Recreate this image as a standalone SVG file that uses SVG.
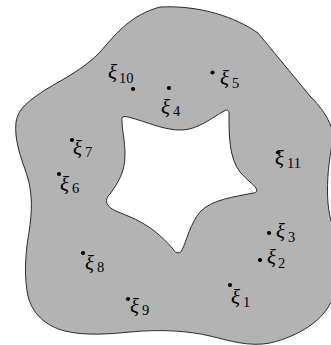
<svg xmlns="http://www.w3.org/2000/svg" width="331" height="345" viewBox="0 0 331 345">
<style>
.region{fill:#b3b3b3;stroke:#000;stroke-width:0.8;fill-rule:evenodd}
.dot{fill:#000}
.xi{font-family:"Liberation Serif","DejaVu Serif",serif;font-style:italic;font-size:21px;fill:#000}
.sub{font-family:"Liberation Serif","DejaVu Serif",serif;font-size:14.5px;fill:#000}
</style>
<rect width="331" height="345" fill="#fff"/>
<path class="region" d="M160,7 C200,5 235,17 258,33 C275,54 293,75 310,96 C322,108 330,120 333,133 C334,140 327.5,160 327.5,190 C327.5,210 330,222 340,245 C346,260 342,288 330,304 C322,320 300,336 270,343 C250,347 230,341 210,336 C190,331 160,329 130,332 C110,334 85,336 65,331 C45,326 32,313 28,296 C24,278 25,255 29,232 C32,212 33,195 27,175 C21,158 14,140 16,122 C18,108 30,100 45,90 C65,78 85,68 100,52 C115,35 130,15 160,7 Z
M122,121 C121,116 124,116 128,117 C148,122 165,131 183,130 C198,129 212,118 224,111 C227,109 229,110 229,114 C229,135 229,158 240,172 C246,179 253,184 256,188 C258,191 256,193 253,193 C235,197 212,199 200,212 C190,224 187,240 182,250 C180,254 176,254 173,249 C162,236 148,224 128,216 C118,212 110,209 108,205 C105,201 107,197 110,194 C118,183 125,172 125,155 C125,140 122,130 122,121 Z"/>
<g id="xi1"><circle class="dot" cx="230" cy="285" r="2.1"/><text><tspan class="xi" x="231" y="304">ξ</tspan><tspan class="sub" x="243" y="307">1</tspan></text></g>
<g id="xi2"><circle class="dot" cx="260" cy="260" r="2.1"/><text><tspan class="xi" x="267" y="264">ξ</tspan><tspan class="sub" x="278" y="268">2</tspan></text></g>
<g id="xi3"><circle class="dot" cx="269" cy="233" r="2.1"/><text><tspan class="xi" x="276" y="238">ξ</tspan><tspan class="sub" x="288" y="242">3</tspan></text></g>
<g id="xi4"><circle class="dot" cx="169" cy="88" r="2.1"/><text><tspan class="xi" x="161" y="114">ξ</tspan><tspan class="sub" x="173" y="116">4</tspan></text></g>
<g id="xi5"><circle class="dot" cx="212.5" cy="72.5" r="2.1"/><text><tspan class="xi" x="220" y="85">ξ</tspan><tspan class="sub" x="232" y="88">5</tspan></text></g>
<g id="xi6"><circle class="dot" cx="59" cy="174" r="2.1"/><text><tspan class="xi" x="60" y="191">ξ</tspan><tspan class="sub" x="72" y="193">6</tspan></text></g>
<g id="xi7"><circle class="dot" cx="72" cy="140" r="2.1"/><text><tspan class="xi" x="73" y="155">ξ</tspan><tspan class="sub" x="85" y="157">7</tspan></text></g>
<g id="xi8"><circle class="dot" cx="83" cy="253" r="2.1"/><text><tspan class="xi" x="85" y="270">ξ</tspan><tspan class="sub" x="97" y="272">8</tspan></text></g>
<g id="xi9"><circle class="dot" cx="128" cy="299" r="2.1"/><text><tspan class="xi" x="130" y="313">ξ</tspan><tspan class="sub" x="142" y="315">9</tspan></text></g>
<g id="xi10"><circle class="dot" cx="133" cy="89" r="2.1"/><text><tspan class="xi" x="108" y="79">ξ</tspan><tspan class="sub" x="119" y="83">10</tspan></text></g>
<g id="xi11"><circle class="dot" cx="278" cy="152.5" r="2.1"/><text><tspan class="xi" x="275" y="165">ξ</tspan><tspan class="sub" x="287" y="168">11</tspan></text></g>
</svg>
